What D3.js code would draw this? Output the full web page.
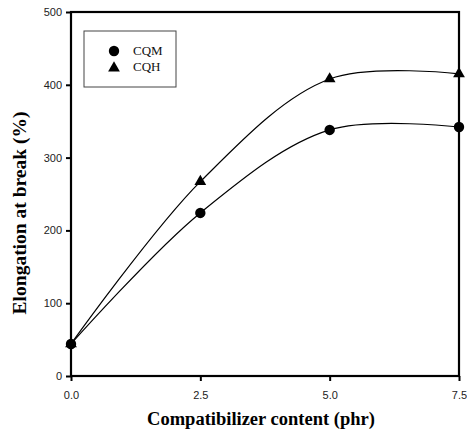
<!DOCTYPE html>
<html><head><meta charset="utf-8">
<script src="https://cdn.jsdelivr.net/npm/d3@7"></script>
<style>body{margin:0;background:#fff}</style>
</head><body>
<svg id="c" width="467" height="440"></svg>
<script>
const xValues = [0, 2.5, 5.0, 7.5];
const cqm = [44, 224, 338, 342];
const cqh = [44, 267, 408, 415];
const xTicks = [0, 2.5, 5.0, 7.5];
const yTicks = [0, 100, 200, 300, 400, 500];
const seriesNames = ["CQM", "CQH"];

const svg = d3.select("#c");
const L = 71, R = 459, T = 12, B = 376;
const x = d3.scaleLinear().domain([0, 7.5]).range([L, R]);
const y = d3.scaleLinear().domain([0, 500]).range([B, T]);

const fontTick = "'Liberation Sans', Arial, sans-serif";
const fontSerif = "'Liberation Serif', 'Times New Roman', serif";

// axes
const xa = svg.append("g").attr("transform", `translate(0,${B})`)
  .call(d3.axisBottom(x).tickValues(xTicks).tickFormat(d3.format(".1f")).tickSize(5).tickSizeOuter(0));
const ya = svg.append("g").attr("transform", `translate(${L},0)`)
  .call(d3.axisLeft(y).tickValues(yTicks).tickSize(5).tickSizeOuter(0));
[xa, ya].forEach(a => {
  a.select(".domain").remove();
  a.selectAll("line").attr("stroke", "#000").attr("stroke-width", 2);
  a.selectAll("text").attr("font-family", fontTick).attr("font-size", 11).attr("fill", "#222");
});
xa.selectAll("text").attr("dy", "1.4em");
ya.selectAll("text").attr("x", -9);

// frame
svg.append("rect").attr("x", L).attr("y", T).attr("width", R - L).attr("height", B - T)
  .attr("fill", "none").attr("stroke", "#000").attr("stroke-width", 2.2);

// lines
const line = d3.line().x((d, i) => x(xValues[i])).y(d => y(d)).curve(d3.curveCatmullRom.alpha(0.5));
[cqm, cqh].forEach(s => {
  svg.append("path").attr("d", line(s)).attr("fill", "none").attr("stroke", "#000").attr("stroke-width", 1.2);
});

// markers
svg.selectAll(".m1").data(cqm).enter().append("circle")
  .attr("cx", (d, i) => x(xValues[i])).attr("cy", d => y(d)).attr("r", 5.2).attr("fill", "#000");
const tri = d3.symbol().type(d3.symbolTriangle).size(60);
svg.selectAll(".m2").data(cqh).enter().append("path")
  .attr("d", tri).attr("transform", (d, i) => `translate(${x(xValues[i])},${y(d)})`).attr("fill", "#000");

// legend
svg.append("rect").attr("x", 84).attr("y", 31).attr("width", 92).attr("height", 56)
  .attr("fill", "#fff").attr("stroke", "#444").attr("stroke-width", 1);
svg.append("circle").attr("cx", 114).attr("cy", 51).attr("r", 5.2).attr("fill", "#000");
svg.append("path").attr("d", tri).attr("transform", "translate(114,68)").attr("fill", "#000");
seriesNames.forEach((n, i) => {
  svg.append("text").attr("x", 133).attr("y", 55 + i * 16).text(n)
    .attr("font-family", fontSerif).attr("font-size", 13).attr("fill", "#111");
});

// titles
svg.append("text").attr("x", 261).attr("y", 425).attr("text-anchor", "middle")
  .attr("font-family", fontSerif).attr("font-weight", "bold").attr("font-size", 18.5)
  .text("Compatibilizer content (phr)");
svg.append("text").attr("transform", "translate(26,213) rotate(-90)").attr("text-anchor", "middle")
  .attr("font-family", fontSerif).attr("font-weight", "bold").attr("font-size", 19.5)
  .text("Elongation at break (%)");
</script>
</body></html>
